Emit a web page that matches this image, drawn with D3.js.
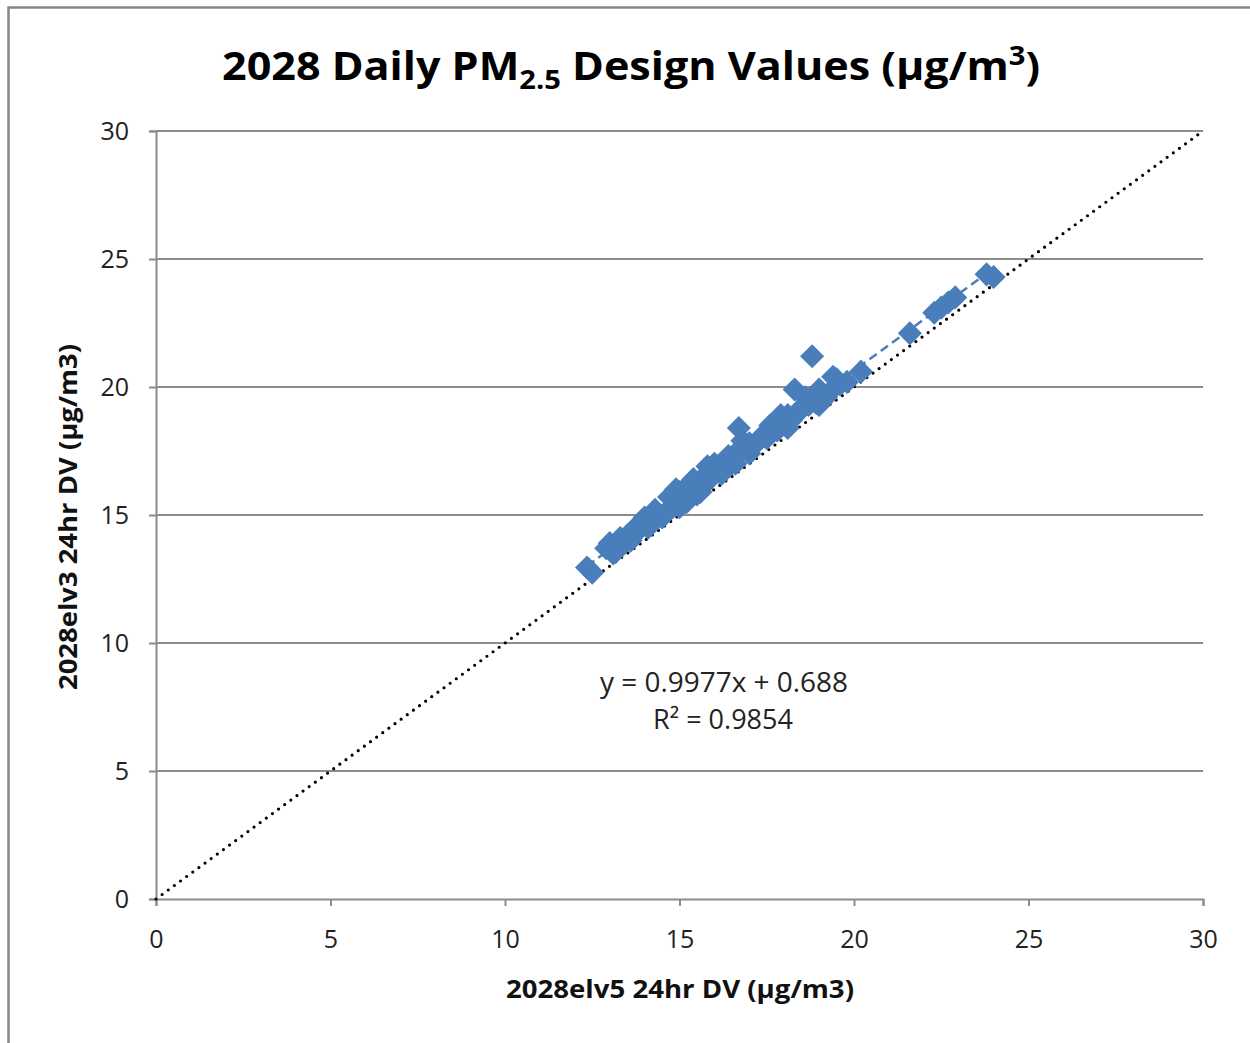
<!DOCTYPE html>
<html>
<head>
<meta charset="utf-8">
<script src="https://cdn.jsdelivr.net/npm/d3@7"></script>
<style>
body { margin: 0; background: #fff; }
text { font-family: "Open Sans", "DejaVu Sans", sans-serif; }
</style>
</head>
<body>
<div id="chart"></div>
<script>
// values
var elv5 = [12.35, 12.5, 12.9, 13.0, 13.2, 13.4, 13.5, 13.7, 13.9, 14.0, 14.2, 14.4, 14.6, 14.7, 14.8, 14.9,
  15.0, 15.1, 15.2, 15.3, 15.4, 15.5, 15.6, 15.7, 15.8, 15.9, 16.0, 16.1, 16.2, 16.3, 16.4, 16.5, 16.6,
  16.7, 16.75, 16.9, 17.0, 17.2, 17.4, 17.5, 17.7, 17.8, 18.0, 18.1, 18.2, 18.3, 18.4, 18.5, 18.7, 18.8,
  18.9, 19.0, 19.2, 19.4, 19.6, 19.8, 20.2, 21.6, 22.3, 22.5, 22.7, 22.9, 23.8, 24.0,
  13.1, 13.3, 13.6, 13.8, 14.1, 14.3, 14.5, 14.9, 15.0, 15.2, 15.4, 15.6, 15.8, 16.0, 16.2, 16.4,
  16.6, 16.8, 17.0, 17.3, 17.6, 17.9, 18.1, 18.3, 18.6, 19.0, 19.3, 19.5];
var elv3 = [12.95, 12.75, 13.7, 13.9, 13.6, 13.9, 14.2, 14.3, 14.5, 14.9, 14.7, 15.0, 15.1, 15.7, 15.3, 15.5,
  15.9, 15.6, 16.1, 15.9, 16.2, 15.8, 16.3, 16.5, 16.9, 16.6, 16.7, 16.9, 17.0, 16.9, 17.3, 17.1, 17.4,
  18.4, 17.5, 17.6, 17.8, 17.8, 18.1, 18.0, 18.4, 18.3, 18.6, 18.9, 18.7, 19.9, 19.0, 19.2, 19.3, 21.2,
  19.4, 19.3, 19.6, 20.4, 20.1, 20.2, 20.6, 22.1, 22.9, 23.1, 23.3, 23.5, 24.4, 24.3,
  13.5, 14.1, 14.0, 14.6, 14.5, 15.2, 14.9, 16.0, 15.3, 15.5, 16.4, 15.9, 16.3, 17.0, 16.6, 16.9,
  17.0, 17.9, 17.4, 18.0, 18.5, 18.9, 18.4, 18.9, 19.6, 19.9, 19.8, 20.3];
var ticks = [0, 5, 10, 15, 20, 25, 30];
var slope = 0.9977, intercept = 0.688, rSquared = 0.9854;

var W = 1250, H = 1043;
var margin = {left: 156, right: 47, top: 131, bottom: 144};
var width = W - margin.left - margin.right;
var height = H - margin.top - margin.bottom;

var svg = d3.select("#chart").append("svg")
  .attr("width", W).attr("height", H);

// outer chart border (runs off the right/bottom edges)
svg.append("rect")
  .attr("x", 8.5).attr("y", 7.5)
  .attr("width", W + 20).attr("height", H + 20)
  .attr("fill", "none").attr("stroke", "#888").attr("stroke-width", 2.5);

var g = svg.append("g")
  .attr("transform", "translate(" + margin.left + "," + margin.top + ")");

var x = d3.scaleLinear().domain([0, 30]).range([0, width]);
var y = d3.scaleLinear().domain([0, 30]).range([height, 0]);

// gridlines
g.selectAll(".grid").data(ticks.slice(1)).enter().append("line")
  .attr("x1", 0).attr("x2", width)
  .attr("y1", function(d) { return y(d); }).attr("y2", function(d) { return y(d); })
  .attr("stroke", "#8c8c8c").attr("stroke-width", 2);

// axes
var xAxis = d3.axisBottom(x).tickValues(ticks).tickSize(7).tickPadding(29);
var yAxis = d3.axisLeft(y).tickValues(ticks).tickSize(7).tickPadding(20);

var gX = g.append("g").attr("transform", "translate(0," + height + ")").call(xAxis);
var gY = g.append("g").call(yAxis);
[gX, gY].forEach(function(ax) {
  ax.select(".domain").attr("stroke", "#8c8c8c").attr("stroke-width", 2);
  ax.selectAll(".tick line").attr("stroke", "#8c8c8c").attr("stroke-width", 2);
  ax.selectAll(".tick text").attr("fill", "#222").style("font-size", "25px")
    .style("font-family", "'Open Sans', sans-serif");
});
gX.selectAll(".tick text").attr("dy", "0.5em");

// 1:1 dotted line
g.append("line")
  .attr("x1", x(0)).attr("y1", y(0)).attr("x2", x(30)).attr("y2", y(30))
  .attr("stroke", "#000").attr("stroke-width", 3.2)
  .attr("stroke-linecap", "round").attr("stroke-dasharray", "0,7.6");

var data = elv5.map(function(v, i) { return {x: v, y: elv3[i]}; });

// points
var diamond = d3.symbol().type(d3.symbolSquare).size(290);
g.selectAll(".dot").data(data).enter().append("path")
  .attr("class", "dot")
  .attr("d", diamond)
  .attr("transform", function(d) { return "translate(" + x(d.x) + "," + y(d.y) + ") rotate(45)"; })
  .attr("fill", "#4a7ebb");

// linear trendline
var xmin = d3.min(elv5), xmax = d3.max(elv5);
g.append("line")
  .attr("x1", x(xmin)).attr("y1", y(slope * xmin + intercept))
  .attr("x2", x(xmax)).attr("y2", y(slope * xmax + intercept))
  .attr("stroke", "#4a7ebb").attr("stroke-width", 2.5)
  .attr("stroke-dasharray", "9,5");

// trendline equation
var eq = svg.append("text").attr("text-anchor", "middle").attr("fill", "#222")
  .style("font-size", "27px");
eq.append("tspan").attr("x", 724).attr("y", 692)
  .attr("textLength", 248).attr("lengthAdjust", "spacingAndGlyphs")
  .text("y = " + slope + "x + " + intercept);
eq.append("tspan").attr("x", 723).attr("y", 729)
  .text("R² = " + rSquared);

// title
var title = svg.append("text").attr("x", 631).attr("y", 80)
  .attr("text-anchor", "middle").attr("font-weight", "bold")
  .style("font-size", "40px").attr("fill", "#000")
  .attr("textLength", 818).attr("lengthAdjust", "spacingAndGlyphs");
title.append("tspan").text("2028 Daily PM");
title.append("tspan").attr("dy", 9).style("font-size", "27px").text("2.5");
title.append("tspan").attr("dy", -9).text(" Design Values (µg/m");
title.append("tspan").attr("dy", -15).style("font-size", "27px").text("3");
title.append("tspan").attr("dy", 15).text(")");

// axis titles
svg.append("text")
  .attr("x", 680).attr("y", 998)
  .attr("text-anchor", "middle").attr("font-weight", "bold")
  .style("font-size", "25px").attr("fill", "#111")
  .attr("textLength", 348).attr("lengthAdjust", "spacingAndGlyphs")
  .text("2028elv5 24hr DV (µg/m3)");

svg.append("text")
  .attr("transform", "translate(77,517) rotate(-90)")
  .attr("text-anchor", "middle").attr("font-weight", "bold")
  .style("font-size", "25px").attr("fill", "#111")
  .attr("textLength", 346).attr("lengthAdjust", "spacingAndGlyphs")
  .text("2028elv3 24hr DV (µg/m3)");
</script>
</body>
</html>
